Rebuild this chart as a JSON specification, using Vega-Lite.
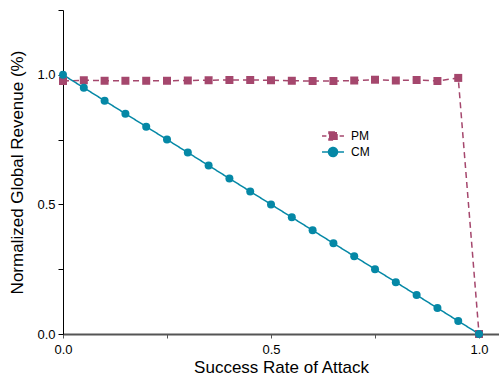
{
  "$schema": "https://vega.github.io/schema/vega-lite/v6.json",
  "width": 436,
  "height": 324,
  "autosize": {"type": "none"},
  "padding": {"left": 63, "top": 10, "right": 0, "bottom": 43},
  "background": "white",
  "config": {
    "view": {"stroke": null},
    "font": "Liberation Sans",
    "axis": {"grid": false, "labelFont": "Liberation Sans", "titleFont": "Liberation Sans", "labelFontSize": 13, "titleFontSize": 17, "titleFontWeight": "normal", "labelColor": "#000", "titleColor": "#000", "tickColor": "#000", "domainColor": "#000"}
  },
  "data": {
    "values": [
      {"x": 0.0, "y": 0.976, "s": "PM"}, {"x": 0.05, "y": 0.979, "s": "PM"}, {"x": 0.1, "y": 0.977, "s": "PM"}, {"x": 0.15, "y": 0.977, "s": "PM"}, {"x": 0.2, "y": 0.977, "s": "PM"}, {"x": 0.25, "y": 0.977, "s": "PM"}, {"x": 0.3, "y": 0.978, "s": "PM"}, {"x": 0.35, "y": 0.979, "s": "PM"}, {"x": 0.4, "y": 0.98, "s": "PM"}, {"x": 0.45, "y": 0.98, "s": "PM"}, {"x": 0.5, "y": 0.979, "s": "PM"}, {"x": 0.55, "y": 0.977, "s": "PM"}, {"x": 0.6, "y": 0.976, "s": "PM"}, {"x": 0.65, "y": 0.976, "s": "PM"}, {"x": 0.7, "y": 0.978, "s": "PM"}, {"x": 0.75, "y": 0.981, "s": "PM"}, {"x": 0.8, "y": 0.978, "s": "PM"}, {"x": 0.85, "y": 0.98, "s": "PM"}, {"x": 0.9, "y": 0.976, "s": "PM"}, {"x": 0.95, "y": 0.988, "s": "PM"}, {"x": 1.0, "y": 0.0, "s": "PM"},
      {"x": 0.0, "y": 1.0, "s": "CM"}, {"x": 0.05, "y": 0.95, "s": "CM"}, {"x": 0.1, "y": 0.9, "s": "CM"}, {"x": 0.15, "y": 0.85, "s": "CM"}, {"x": 0.2, "y": 0.8, "s": "CM"}, {"x": 0.25, "y": 0.75, "s": "CM"}, {"x": 0.3, "y": 0.7, "s": "CM"}, {"x": 0.35, "y": 0.65, "s": "CM"}, {"x": 0.4, "y": 0.6, "s": "CM"}, {"x": 0.45, "y": 0.55, "s": "CM"}, {"x": 0.5, "y": 0.5, "s": "CM"}, {"x": 0.55, "y": 0.45, "s": "CM"}, {"x": 0.6, "y": 0.4, "s": "CM"}, {"x": 0.65, "y": 0.35, "s": "CM"}, {"x": 0.7, "y": 0.3, "s": "CM"}, {"x": 0.75, "y": 0.25, "s": "CM"}, {"x": 0.8, "y": 0.2, "s": "CM"}, {"x": 0.85, "y": 0.15, "s": "CM"}, {"x": 0.9, "y": 0.1, "s": "CM"}, {"x": 0.95, "y": 0.05, "s": "CM"}, {"x": 1.0, "y": 0.0, "s": "CM"}
    ]
  },
  "encoding": {
    "x": {"field": "x", "type": "quantitative", "scale": {"domain": [0, 1.048], "nice": false, "zero": false},
      "axis": {"title": "Success Rate of Attack", "values": [0, 0.25, 0.5, 0.75, 1.0], "labelExpr": "datum.value % 0.5 === 0 ? format(datum.value, '.1f') : ''", "tickSize": 4, "labelPadding": 5, "titlePadding": 3, "domainColor": "#555", "domainWidth": 2, "tickColor": "#555", "labelFlush": false}},
    "y": {"field": "y", "type": "quantitative", "scale": {"domain": [0, 1.25], "nice": false},
      "axis": {"title": "Normalized Global Revenue (%)", "values": [0, 0.25, 0.5, 0.75, 1.0, 1.25], "labelExpr": "datum.value % 0.5 === 0 ? format(datum.value, '.1f') : ''", "tickSize": 5, "labelPadding": 3, "titlePadding": 10, "labelFlush": false}},
    "color": {"field": "s", "type": "nominal", "scale": {"domain": ["PM", "CM"], "range": ["#a5476d", "#0588a6"]},
      "legend": {"title": null, "orient": "none", "legendX": 263, "legendY": 119, "padding": 0, "labelFontSize": 12, "labelFont": "Liberation Sans", "labelColor": "#000", "symbolSize": 144, "rowPadding": 0, "labelOffset": 11,
        "encode": {"symbols": {"update": {
          "shape": [{"test": "datum.value === 'PM'", "value": "M-1.83,0H-1.1M-0.6,0H0.6M1.1,0H1.83M-0.67,-0.67H0.67V0.67H-0.67Z"}, {"value": "M-1.83,0H1.83M0.75,0A0.75,0.75 0 1,1 -0.75,0A0.75,0.75 0 1,1 0.75,0Z"}],
          "fill": [{"test": "datum.value === 'PM'", "value": "#a5476d"}, {"value": "#0588a6"}],
          "stroke": [{"test": "datum.value === 'PM'", "value": "#a5476d"}, {"value": "#0588a6"}],
          "strokeWidth": {"value": 1.5},
          "opacity": {"value": 1}
        }}}}}
  },
  "layer": [
    {"mark": {"type": "line", "strokeWidth": 1.5},
     "encoding": {"strokeDash": {"field": "s", "type": "nominal", "scale": {"domain": ["PM", "CM"], "range": [[6, 4], [1, 0]]}, "legend": null}}},
    {"transform": [{"filter": "datum.s === 'PM'"}], "mark": {"type": "point", "filled": true, "opacity": 1, "size": 64, "shape": "square"}},
    {"transform": [{"filter": "datum.s === 'CM'"}], "mark": {"type": "point", "filled": true, "opacity": 1, "size": 64, "shape": "circle"}}
  ]
}
